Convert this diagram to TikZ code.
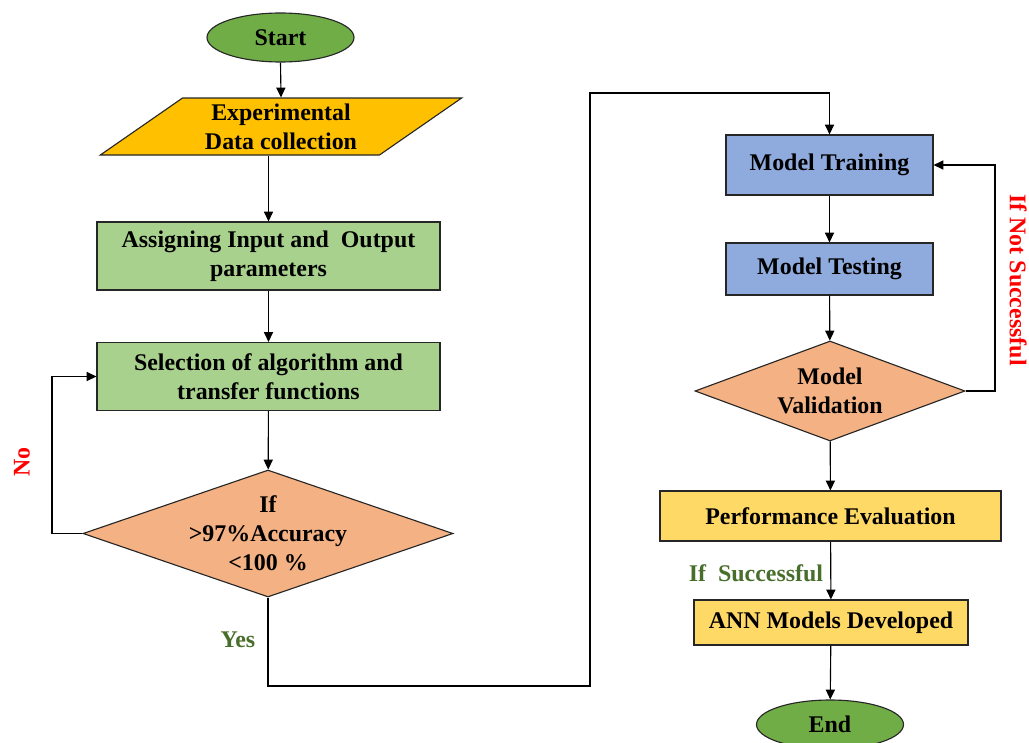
\documentclass[tikz,border=0pt]{standalone}
\usepackage{fontspec}
\setmainfont{Liberation Serif}
\usetikzlibrary{arrows.meta,shapes.geometric}
\definecolor{termgreen}{HTML}{70AD47}
\definecolor{datagold}{HTML}{FFC000}
\definecolor{paramgreen}{HTML}{A9D18E}
\definecolor{checkorange}{HTML}{F4B183}
\definecolor{modelblue}{HTML}{8FAADC}
\definecolor{evalyellow}{HTML}{FFD966}
\definecolor{edgegray}{HTML}{262626}
\definecolor{failred}{HTML}{FF0000}
\definecolor{passgreen}{RGB}{72,110,44}
\newcommand{\pxu}{0.025cm}

\begin{document}
\begin{tikzpicture}[
  x=\pxu, y=-\pxu,
  >={Triangle[length=7pt,width=6.5pt]},
  base/.style={draw=edgegray,line width=0.8pt,align=center,
    font=\fontsize{17}{20.6}\selectfont\bfseries,inner sep=2pt},
  terminal/.style={base,ellipse,fill=termgreen,
    minimum width=147*\pxu,minimum height=49*\pxu},
  iobox/.style={base,trapezium,trapezium left angle=38,trapezium right angle=142,
    trapezium stretches=true,fill=datagold,
    minimum width=362*\pxu,minimum height=57*\pxu},
  parambox/.style={base,rectangle,fill=paramgreen,
    minimum width=343*\pxu,minimum height=68*\pxu},
  modelbox/.style={base,rectangle,fill=modelblue,minimum width=207*\pxu},
  evalbox/.style={base,rectangle,fill=evalyellow},
  check/.style={base,diamond,fill=checkorange,inner sep=0pt},
  flow/.style={->,line width=0.8pt,black},
  tag/.style={font=\fontsize{17}{20.6}\selectfont\bfseries}
]
\useasboundingbox (0,0) rectangle (1029,742);

% left column
\node[terminal] (start) at (280.5,37.5) {Start};
\node[iobox] (data) at (281,126.5) {Experimental\\Data collection};
\node[parambox] (assign) at (268.5,256) {Assigning Input and\ \ Output\\parameters};
\node[parambox] (select) at (268.5,376.5) {Selection of algorithm and\\transfer functions};
\node[check,inner sep=-5pt,shape aspect=2.9,
  minimum width=370*\pxu,minimum height=127*\pxu]
  (accuracy) at (268,533.5) {If\\>97\%Accuracy\\<100 \%};

% right column
\node[modelbox,minimum height=60*\pxu] (train) at (829.5,165) {Model Training};
\node[modelbox,minimum height=52*\pxu] (test) at (829.5,269) {Model Testing};
\node[check,shape aspect=2.7,minimum width=270*\pxu,minimum height=100*\pxu]
  (valid) at (830,391) {Model\\Validation};
\node[evalbox,minimum width=341*\pxu,minimum height=50*\pxu] (perf) at (830.5,516) {Performance Evaluation};
\node[evalbox,minimum width=274*\pxu,minimum height=45*\pxu] (ann) at (831,622.5) {ANN Models Developed};
\node[terminal] (finish) at (830,724.5) {End};

% labels
\node[tag,text=failred,rotate=90] (nolabel) at (22,462) {No};
\node[tag,text=passgreen] (yeslabel) at (238,640) {Yes};
\node[tag,text=failred,rotate=-90] (faillabel) at (1018,280) {If Not Successful};
\node[tag,text=passgreen] (passlabel) at (756,573) {If\ \ Successful};

% turning points
\coordinate (noturn) at (52,533.5);
\coordinate (yesbottom) at (590,686);
\coordinate (yestop) at (590,93);
\coordinate (retry) at (995,391);

\draw[flow] (start.south) -- (data.north);
\draw[flow] (data.south -| assign.north) -- (assign.north);
\draw[flow] (assign) -- (select);
\draw[flow] (select) -- (accuracy);
\draw[flow] (accuracy.west) -- (noturn) |- (select.west);
\draw[flow] (accuracy.south) |- (yesbottom) -- (yestop) -| (train.north);
\draw[flow] (train) -- (test);
\draw[flow] (test) -- (valid);
\draw[flow] (valid.east) -- (retry) |- (train.east);
\draw[flow] (valid) -- (perf);
\draw[flow] (perf) -- (ann);
\draw[flow] (ann) -- (finish);
\end{tikzpicture}
\end{document}
